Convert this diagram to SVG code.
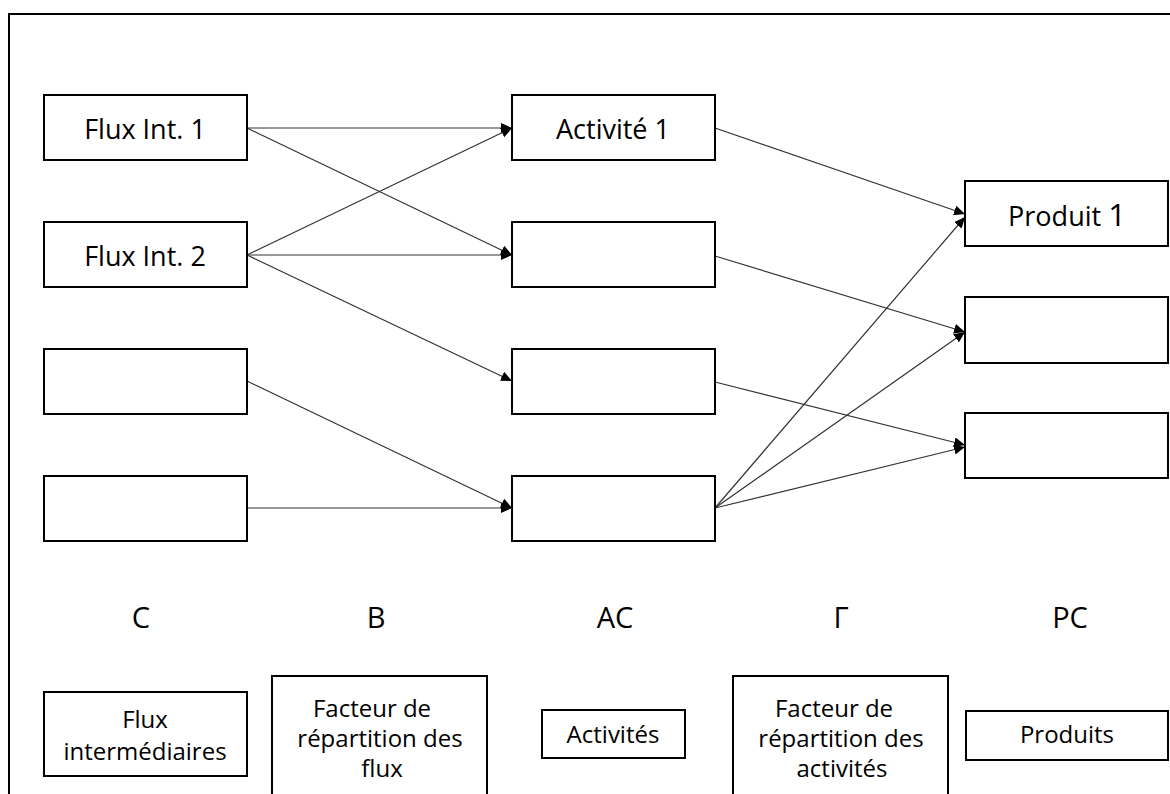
<svg xmlns="http://www.w3.org/2000/svg" width="1170" height="794" viewBox="0 0 1170 794">
<style>
.box{fill:#fff;stroke:#000;stroke-width:2}
.t{font-family:"Open Sans","Noto Sans","Liberation Sans",sans-serif;fill:#000;text-anchor:middle}
.n{font-size:27px}
.s{font-size:24px}
.lab{font-size:29px}
.c{fill:none;stroke:#333;stroke-width:1.2;marker-end:url(#ah)}
</style>
<defs>
<marker id="ah" markerUnits="userSpaceOnUse" markerWidth="12" markerHeight="10" refX="11" refY="5" orient="auto">
<path d="M0,0 L11,5 L0,10 z" fill="#000"/>
</marker>
</defs>
<rect width="1170" height="794" fill="#fff"/>
<path d="M9,800 V14 H1170" fill="none" stroke="#000" stroke-width="2"/>

<g id="connectors">
<line class="c" x1="247" y1="128" x2="512" y2="128"/>
<line class="c" x1="247" y1="128" x2="512" y2="255"/>
<line class="c" x1="247" y1="255" x2="512" y2="128"/>
<line class="c" x1="247" y1="255" x2="512" y2="255"/>
<line class="c" x1="247" y1="255" x2="512" y2="381"/>
<line class="c" x1="247" y1="381" x2="512" y2="508"/>
<line class="c" x1="247" y1="508" x2="512" y2="508"/>
<line class="c" x1="715" y1="128" x2="965" y2="214"/>
<line class="c" x1="715" y1="256" x2="965" y2="332"/>
<line class="c" x1="715" y1="382" x2="965" y2="445"/>
<line class="c" x1="715" y1="508" x2="965" y2="217"/>
<line class="c" x1="715" y1="508" x2="965" y2="332"/>
<line class="c" x1="715" y1="508" x2="965" y2="447"/>
</g>

<g id="flux1"><rect class="box" x="44" y="95" width="203" height="65"/><text class="t n" x="145" y="139">Flux Int. 1</text></g>
<g id="flux2"><rect class="box" x="44" y="222" width="203" height="65"/><text class="t n" x="145" y="266">Flux Int. 2</text></g>
<g id="flux3"><rect class="box" x="44" y="349" width="203" height="65"/></g>
<g id="flux4"><rect class="box" x="44" y="476" width="203" height="65"/></g>

<g id="act1"><rect class="box" x="512" y="95" width="203" height="65"/><text class="t n" x="613" y="139">Activité 1</text></g>
<g id="act2"><rect class="box" x="512" y="222" width="203" height="65"/></g>
<g id="act3"><rect class="box" x="512" y="349" width="203" height="65"/></g>
<g id="act4"><rect class="box" x="512" y="476" width="203" height="65"/></g>

<g id="prod1"><rect class="box" x="965" y="181" width="203" height="65"/><text class="t n" x="1067" y="226">Produit <tspan font-size="31">1</tspan></text></g>
<g id="prod2"><rect class="box" x="965" y="297" width="203" height="66"/></g>
<g id="prod3"><rect class="box" x="965" y="413" width="203" height="65"/></g>

<g id="labels">
<text class="t lab" x="141" y="628">C</text>
<text class="t lab" x="376" y="628">B</text>
<text class="t lab" x="615" y="628">AC</text>
<text class="t lab" x="841" y="628">Γ</text>
<text class="t lab" x="1070" y="628">PC</text>
</g>

<g id="legend-flux"><rect class="box" x="44" y="692" width="203" height="84"/>
<text class="t s" x="145" y="728">Flux</text><text class="t s" x="145" y="760">intermédiaires</text></g>
<g id="legend-b"><rect class="box" x="272" y="676" width="215" height="130"/>
<text class="t s" x="372" y="717">Facteur de</text><text class="t s" x="380" y="747">répartition des</text><text class="t s" x="382" y="777">flux</text></g>
<g id="legend-act"><rect class="box" x="542" y="710" width="143" height="48"/>
<text class="t s" x="613" y="743">Activités</text></g>
<g id="legend-g"><rect class="box" x="733" y="676" width="215" height="130"/>
<text class="t s" x="834" y="717">Facteur de</text><text class="t s" x="841" y="747">répartition des</text><text class="t s" x="842" y="777">activités</text></g>
<g id="legend-prod"><rect class="box" x="966" y="711" width="202" height="49"/>
<text class="t s" x="1067" y="743">Produits</text></g>
</svg>
